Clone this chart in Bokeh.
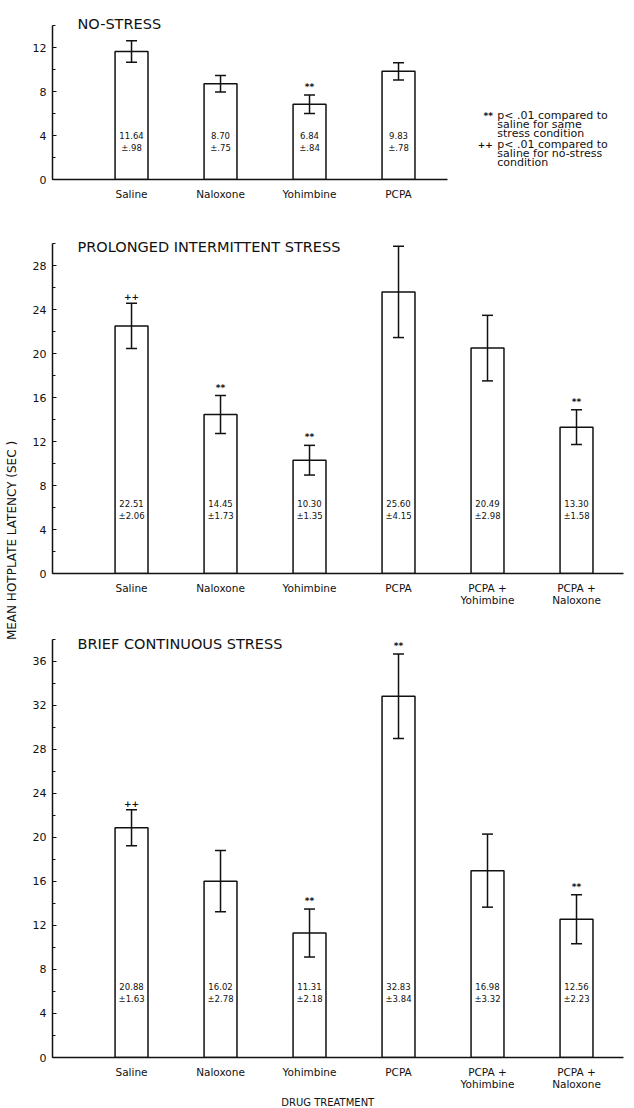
import math
from bokeh.plotting import figure
from bokeh.models import (Range1d, FixedTicker, SingleIntervalTicker, Whisker,
                          TeeHead, Label, ColumnDataSource)
from bokeh.layouts import column, row
from bokeh.embed import file_html
from bokeh.resources import INLINE
from bokeh.core.properties import value

# ---------------- data ----------------
categories = ["Saline", "Naloxone", "Yohimbine", "PCPA",
              "PCPA +\nYohimbine", "PCPA +\nNaloxone"]

no_stress_mean = [11.64, 8.70, 6.84, 9.83]
no_stress_sem = [0.98, 0.75, 0.84, 0.78]
no_stress_sig = ["", "", "**", ""]

intermittent_mean = [22.51, 14.45, 10.30, 25.60, 20.49, 13.30]
intermittent_sem = [2.06, 1.73, 1.35, 4.15, 2.98, 1.58]
intermittent_sig = ["++", "**", "**", "", "", "**"]

continuous_mean = [20.88, 16.02, 11.31, 32.83, 16.98, 12.56]
continuous_sem = [1.63, 2.78, 2.18, 3.84, 3.32, 2.23]
continuous_sig = ["++", "", "**", "**", "", "**"]

panel_titles = ["NO-STRESS", "PROLONGED INTERMITTENT STRESS", "BRIEF CONTINUOUS STRESS"]
legend_lines = [["**", "p< .01 compared to", "saline for same", "stress condition"],
                ["++", "p< .01 compared to", "saline for no-stress", "condition"]]
y_label = "MEAN HOTPLATE LATENCY (SEC )"
x_label = "DRUG TREATMENT"

FONT = "DejaVu Sans"
INK = "#111111"
X0, X1 = -0.888, 5.528
LEFT_W = 22          # width of the strip holding the shared y label
COL_W = 634 - LEFT_W


def fmt_sem(s):
    t = f"{s:.2f}"
    return "\u00b1" + (t[1:] if t.startswith("0") else t)


def bare(width, height, xr, yr):
    f = figure(width=width, height=height, x_range=xr, y_range=yr,
               output_backend="svg", toolbar_location=None,
               x_axis_location=None, y_axis_location=None,
               min_border_left=0, min_border_right=0,
               min_border_top=0, min_border_bottom=0)
    f.outline_line_color = None
    f.grid.visible = False
    f.background_fill_color = "white"
    f.border_fill_color = "white"
    return f


def panel(title, means, sems, sig, yend, ybound, height, btop, bbottom,
          axis_end, dy, title_y):
    n = len(means)
    idx = list(range(n))
    p = figure(width=COL_W, height=height, x_range=Range1d(X0, X1),
               y_range=Range1d(0, yend), output_backend="svg",
               toolbar_location=None, min_border_left=52 - LEFT_W,
               min_border_right=11, min_border_top=btop,
               min_border_bottom=bbottom)
    p.outline_line_color = None
    p.grid.visible = False
    p.background_fill_color = "white"
    p.border_fill_color = "white"

    ya = p.yaxis[0]
    ya.ticker = SingleIntervalTicker(interval=4, num_minor_ticks=2)
    ya.bounds = (0, ybound)
    ya.axis_line_width = 1.5
    ya.axis_line_color = INK
    ya.major_tick_in = 4
    ya.major_tick_out = 0
    ya.minor_tick_in = 3
    ya.minor_tick_out = 0
    ya.major_tick_line_color = INK
    ya.minor_tick_line_color = INK
    ya.major_label_text_font = FONT
    ya.major_label_text_font_size = "11px"
    ya.major_label_text_color = INK
    ya.major_label_standoff = 6

    xa = p.xaxis[0]
    xa.ticker = FixedTicker(ticks=idx)
    xa.major_label_overrides = {i: categories[i] for i in idx}
    xa.bounds = (X0, axis_end)
    xa.axis_line_width = 1.5
    xa.axis_line_color = INK
    xa.major_tick_line_color = None
    xa.minor_tick_line_color = None
    xa.major_label_text_font = FONT
    xa.major_label_text_font_size = "10.5px"
    xa.major_label_text_line_height = 1.0
    xa.major_label_text_color = INK
    xa.major_label_standoff = 2

    src = ColumnDataSource(dict(
        x=idx, top=means,
        upper=[m + s for m, s in zip(means, sems)],
        lower=[m - s for m, s in zip(means, sems)],
        sig=sig,
        mtxt=[f"{m:.2f}" for m in means],
        stxt=[fmt_sem(s) for s in sems],
    ))
    p.vbar(x="x", top="top", bottom=0, width=0.37, source=src,
           fill_color="white", line_color=INK, line_width=1.5)
    p.add_layout(Whisker(source=src, base="x", upper="upper", lower="lower",
                         level="overlay", line_color=INK, line_width=1.5,
                         upper_head=TeeHead(size=11, line_color=INK, line_width=1.5),
                         lower_head=TeeHead(size=11, line_color=INK, line_width=1.5)))
    p.text(x="x", y="upper", text="sig", source=src, text_align="center",
           text_baseline="bottom", y_offset=-3, text_font=value(FONT),
           text_font_size="9px", text_font_style="bold", text_color=INK)
    p.text(x="x", y=0, text="mtxt", source=src, text_align="center",
           text_baseline="middle", y_offset=-dy, text_font=value(FONT),
           text_font_size="8.5px", text_color=INK)
    p.text(x="x", y=0, text="stxt", source=src, text_align="center",
           text_baseline="middle", y_offset=-(dy - 12), text_font=value(FONT),
           text_font_size="8.5px", text_color=INK)
    p.add_layout(Label(x=-0.607, y=title_y, text=title, text_font=FONT,
                       text_font_size="14.5px", text_baseline="middle",
                       text_color=INK))
    return p


p1 = panel(panel_titles[0], no_stress_mean, no_stress_sem, no_stress_sig,
           15, 14, 212, 14, 33, 3.55, 44, 14.18)
p2 = panel(panel_titles[1], intermittent_mean, intermittent_sem, intermittent_sig,
           31, 30, 418, 20, 57, X1, 70, 29.7)
p3 = panel(panel_titles[2], continuous_mean, continuous_sem, continuous_sig,
           38.8, 38, 465, 0, 38, X1, 71, 37.55)

# significance legend in the top panel
for block, y0 in zip(legend_lines, (5.8, 3.15)):
    p1.add_layout(Label(x=4.06, y=y0, text=block[0], text_font=FONT,
                        text_font_size="9px", text_font_style="bold",
                        text_align="right", text_baseline="middle", text_color=INK))
    for k, line in enumerate(block[1:]):
        p1.add_layout(Label(x=4.11, y=y0 - k * 0.82, text=line, text_font=FONT,
                            text_font_size="11px", text_baseline="middle",
                            text_color=INK))

# strip at the left with the shared y-axis label
ylab_fig = bare(LEFT_W, 1108, Range1d(0, LEFT_W), Range1d(1108, 0))
ylab_fig.add_layout(Label(x=11, y=540, text=y_label, angle=math.pi / 2,
                          text_font=FONT, text_font_size="12px",
                          text_align="center", text_baseline="middle",
                          text_color=INK))

# strip at the bottom with the x-axis title
xlab_fig = bare(COL_W, 13, Range1d(LEFT_W, 634), Range1d(1108, 1095))
xlab_fig.add_layout(Label(x=317, y=1101.5, text=x_label, text_font=FONT,
                          text_font_size="10px", text_align="center",
                          text_baseline="middle", text_color=INK))

layout = row(ylab_fig, column(p1, p2, p3, xlab_fig, spacing=0), spacing=0)
open("out.html", "w").write(file_html(layout, INLINE))
